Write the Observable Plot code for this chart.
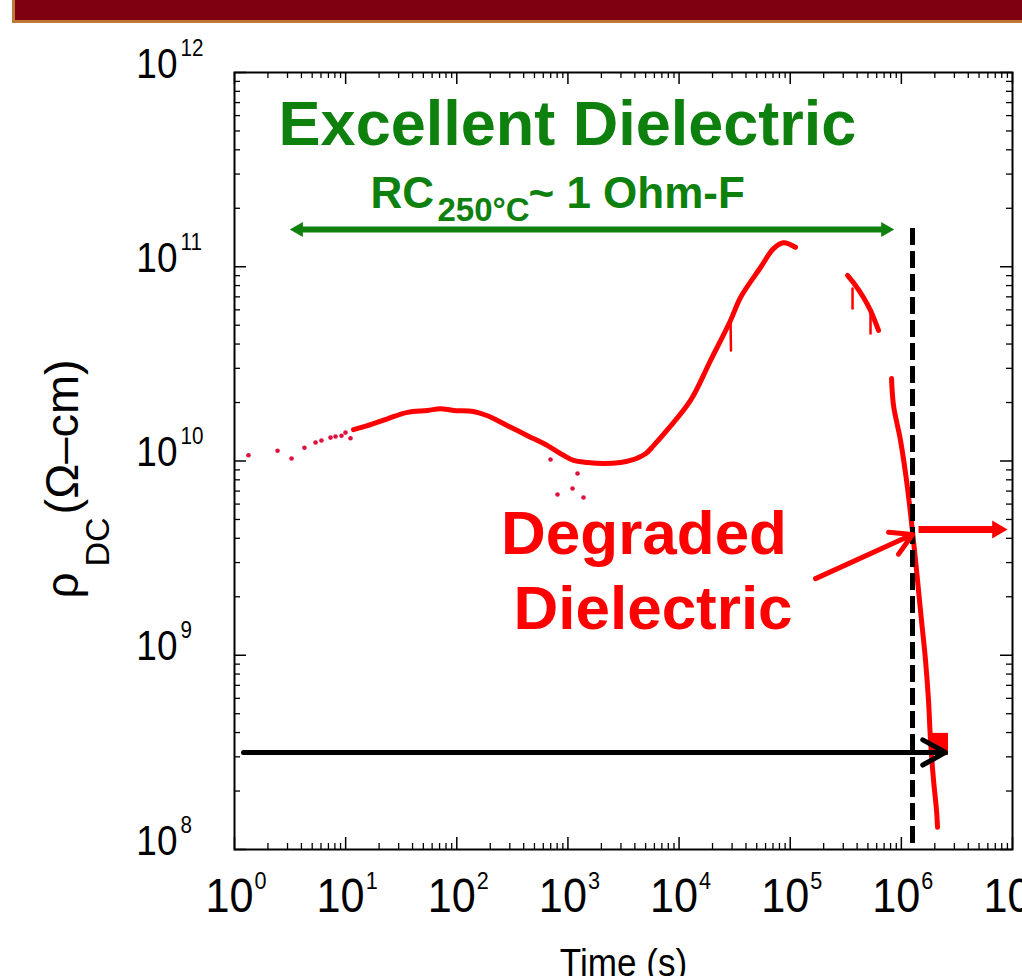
<!DOCTYPE html>
<html><head><meta charset="utf-8">
<script src="https://cdn.jsdelivr.net/npm/d3@7"></script>
<script src="https://cdn.jsdelivr.net/npm/@observablehq/plot@0.6"></script>
<style>
body{margin:0;background:#fff;overflow:hidden}
#wrap{position:relative;width:1022px;height:976px;overflow:hidden}
#chart{position:absolute;left:0;top:0}
#banner{position:absolute;left:12px;top:0;width:1020px;height:20px;background:#7f000e;border-bottom:3px solid #c0783a;border-left:3px solid #c0783a;z-index:2}
</style></head><body><div id="wrap"><div id="chart"></div><div id="banner"></div></div>
<script>
// ---- data ----
const curveA_t   = [11.77, 15.73, 23.8, 36.0, 54.5, 71.4, 93.4, 141, 189, 286, 433, 655, 912, 1123, 1500, 2090, 2972, 3657, 4990, 5890, 7870, 12680, 19180, 29040, 35710, 54050, 70740, 87000, 111600];
const curveA_rho = [1.45e10, 1.52e10, 1.65e10, 1.78e10, 1.82e10, 1.86e10, 1.82e10, 1.80e10, 1.71e10, 1.52e10, 1.35e10, 1.20e10, 1.07e10, 1.006e10, 9.82e9, 9.71e9, 9.82e9, 1.006e10, 1.09e10, 1.20e10, 1.45e10, 2.05e10, 3.29e10, 5.29e10, 6.95e10, 9.91e10, 1.24e11, 1.33e11, 1.26e11];
const curveB_t   = [327700, 386900, 456600, 527900, 623200];
const curveB_rho = [9.02e10, 8.01e10, 6.95e10, 5.95e10, 4.70e10];
const curveC_t   = [815800, 850300, 982700, 1113000, 1209000, 1313000, 1398000, 1518000, 1650000, 1755000, 1830000, 1948000, 2072000, 2116000];
const curveC_rho = [2.66e10, 1.93e10, 1.275e10, 7.94e9, 5.37e9, 3.46e9, 2.43e9, 1.51e9, 9.4e8, 5.85e8, 3.64e8, 2.27e8, 1.59e8, 1.30e8];
const spikes_id  = ["g1", "g1", "g2", "g2", "g3", "g3"];
const spikes_t   = [29040, 29300, 363700, 363700, 527900, 527900];
const spikes_rho = [5.29e10, 3.71e10, 7.73e10, 6.10e10, 5.81e10, 4.53e10];
const dots_t     = [1.336, 2.44, 3.26, 4.26, 5.36, 6.06, 7.31, 8.11, 9.18, 9.97, 11.06, 697, 1220, 806, 1100, 1381];
const dots_rho   = [1.07e10, 1.13e10, 1.03e10, 1.17e10, 1.245e10, 1.275e10, 1.32e10, 1.336e10, 1.35e10, 1.40e10, 1.31e10, 1.018e10, 8.62e9, 6.72e9, 7.22e9, 6.49e9];
const flare_t    = [1.907e6, 2.657e6];
const flare_rho  = [3.05e8, 3.96e8];

// tick labels
const xMajor = [1, 10, 100, 1e3, 1e4, 1e5, 1e6, 1e7];
const xExp   = ["0", "1", "2", "3", "4", "5", "6", "7"];
const yMajor = [1e8, 1e9, 1e10, 1e11, 1e12];
const yExp   = ["8", "9", "10", "11", "12"];
const minorSteps = [2, 3, 4, 5, 6, 7, 8, 9];

// annotations (data coordinates)
const dashedLine = {t: 1.26e6, top: 1.574e11, bottom: 1e8};
const greenArrow = {t1: 3.766, t2: 720300, rho: 1.555e11};
const blackArrow = {t1: 1.205, t2: 2.496e6, rho: 3.16e8};
const redDiag    = {t1: 168900, rho1: 2.48e9, t2: 1.26e6, rho2: 4.18e9};
const redHoriz   = {t1: 1.427e6, t2: 7.3e6, rho: 4.44e9};
const excellent  = {text: "Excellent Dielectric", t: 991, rho: 4.21e11};
const rcMain     = {text: "RC", t: 16.74, rho: 2.018e11};
const rcSub      = {text: "250°C", t: 67.07, rho: 1.73e11};
const rcRest     = {text: "~ 1 Ohm-F", t: 441.9, rho: 2.018e11};
const degraded   = [{text: "Degraded", t: 4837, rho: 3.34e9}, {text: "Dielectric", t: 5830, rho: 1.373e9}];

// ---- build tables ----
const curve = [
  ...curveA_t.map((t, i) => ({seg: "A", t, rho: curveA_rho[i]})),
  ...curveB_t.map((t, i) => ({seg: "B", t, rho: curveB_rho[i]})),
  ...curveC_t.map((t, i) => ({seg: "C", t, rho: curveC_rho[i]}))
];
const spikes = spikes_t.map((t, i) => ({seg: spikes_id[i], t, rho: spikes_rho[i]}));
const dots = dots_t.map((t, i) => ({t, rho: dots_rho[i]}));
const xMinor = xMajor.slice(0, -1).flatMap(d => minorSteps.map(m => d * m));
const yMinor = yMajor.slice(0, -1).flatMap(d => minorSteps.map(m => d * m));
const xLab = xMajor.map((v, i) => ({v, e: xExp[i]}));
const yLab = yMajor.map((v, i) => ({v, e: yExp[i]}));

const W = 1022, H = 976, mT = 72, mB = 127, mL = 234, mR = 10;
const FH = H - mT - mB, FW = W - mL - mR;
const RED = "#ff0000", GREEN = "#0e800e", DOT = "#e0103c";
const FONT = "'Liberation Sans', Arial, Helvetica, sans-serif";

const plot = Plot.plot({
  width: W, height: H,
  marginTop: mT, marginBottom: mB, marginLeft: mL, marginRight: mR,
  x: {type: "log", domain: [1, 1e7], axis: null},
  y: {type: "log", domain: [1e8, 1e12], axis: null},
  style: {background: "transparent", fontFamily: FONT, color: "black"},
  marks: [
    // ticks (inward) on all four sides
    Plot.ruleX(xMajor, {x: d => d, insetTop: FH - 12, stroke: "black", strokeWidth: 1.5}),
    Plot.ruleX(xMajor, {x: d => d, insetBottom: FH - 12, stroke: "black", strokeWidth: 1.5}),
    Plot.ruleX(xMinor, {x: d => d, insetTop: FH - 6, stroke: "black", strokeWidth: 1.3}),
    Plot.ruleX(xMinor, {x: d => d, insetBottom: FH - 6, stroke: "black", strokeWidth: 1.3}),
    Plot.ruleY(yMajor, {y: d => d, insetRight: FW - 12, stroke: "black", strokeWidth: 1.5}),
    Plot.ruleY(yMajor, {y: d => d, insetLeft: FW - 12, stroke: "black", strokeWidth: 1.5}),
    Plot.ruleY(yMinor, {y: d => d, insetRight: FW - 6, stroke: "black", strokeWidth: 1.3}),
    Plot.ruleY(yMinor, {y: d => d, insetLeft: FW - 6, stroke: "black", strokeWidth: 1.3}),
    Plot.frame({stroke: "black", strokeWidth: 2}),

    // data
    Plot.rect([0], {x1: () => flare_t[0], x2: () => flare_t[1], y1: () => flare_rho[0], y2: () => flare_rho[1], fill: RED}),
    Plot.line(curve, {x: "t", y: "rho", z: "seg", stroke: RED, strokeWidth: 5, curve: "catmull-rom", strokeLinejoin: "round", strokeLinecap: "round"}),
    Plot.line(spikes, {x: "t", y: "rho", z: "seg", stroke: RED, strokeWidth: 2.5}),
    Plot.dot(dots, {x: "t", y: "rho", r: 2.3, fill: DOT}),

    // annotations
    Plot.ruleX([dashedLine], {x: "t", y1: "top", y2: "bottom", stroke: "black", strokeWidth: 5, strokeDasharray: "17,6"}),
    Plot.arrow([blackArrow], {x1: "t1", x2: "t2", y1: "rho", y2: "rho", stroke: "black", strokeWidth: 5, headLength: 7.8, headAngle: 58}),
    Plot.link([greenArrow], {x1: "t1", x2: "t2", y1: "rho", y2: "rho", stroke: GREEN, strokeWidth: 6}),
    Plot.dot([greenArrow], {x: "t1", y: "rho", symbol: "triangle", r: 5.6, fill: GREEN, rotate: -90}),
    Plot.dot([greenArrow], {x: "t2", y: "rho", symbol: "triangle", r: 5.6, fill: GREEN, rotate: 90}),
    Plot.arrow([redDiag], {x1: "t1", x2: "t2", y1: "rho1", y2: "rho2", stroke: RED, strokeWidth: 5, headLength: 7.2, headAngle: 60}),
    Plot.link([redHoriz], {x1: "t1", x2: "t2", y1: "rho", y2: "rho", stroke: RED, strokeWidth: 7}),
    Plot.dot([redHoriz], {x: "t2", y: "rho", symbol: "triangle", r: 6.6, fill: RED, rotate: 90}),

    Plot.text([excellent], {x: "t", y: "rho", text: "text", fill: GREEN, fontSize: 63, fontWeight: "bold", textAnchor: "middle", lineAnchor: "bottom"}),
    Plot.text([rcMain], {x: "t", y: "rho", text: "text", fill: GREEN, fontSize: 44, fontWeight: "bold", textAnchor: "start", lineAnchor: "bottom"}),
    Plot.text([rcSub], {x: "t", y: "rho", text: "text", fill: GREEN, fontSize: 33, fontWeight: "bold", textAnchor: "start", lineAnchor: "bottom"}),
    Plot.text([rcRest], {x: "t", y: "rho", text: "text", fill: GREEN, fontSize: 44, fontWeight: "bold", textAnchor: "start", lineAnchor: "bottom"}),
    Plot.text(degraded, {x: "t", y: "rho", text: "text", fill: RED, fontSize: 62, fontWeight: "bold", textAnchor: "middle", lineAnchor: "bottom"}),

    // tick labels
    Plot.text(xLab, {x: "v", frameAnchor: "bottom", text: () => "10", textAnchor: "end", lineAnchor: "bottom", dx: 19, dy: 62, fontSize: 48, ariaDescription: "condx"}),
    Plot.text(xLab, {x: "v", frameAnchor: "bottom", text: "e", textAnchor: "start", lineAnchor: "bottom", dx: 20, dy: 39, fontSize: 24, ariaDescription: "condx"}),
    Plot.text(yLab, {y: "v", frameAnchor: "left", text: () => "10", textAnchor: "end", lineAnchor: "bottom", dx: -57, dy: 5, fontSize: 43, ariaDescription: "condy"}),
    Plot.text(yLab, {y: "v", frameAnchor: "left", text: "e", textAnchor: "start", lineAnchor: "bottom", dx: -54, dy: -17, fontSize: 24, ariaDescription: "condy"}),

    // axis titles
    Plot.text(["Time (s)"], {frameAnchor: "bottom", text: d => d, lineAnchor: "bottom", dy: 126, fontSize: 39, ariaDescription: "condx"}),
    Plot.text(["ρ"], {frameAnchor: "bottom-left", text: d => d, rotate: -90, textAnchor: "start", lineAnchor: "bottom", dx: -157, dy: -251, fontSize: 46}),
    Plot.text(["DC"], {frameAnchor: "bottom-left", text: d => d, rotate: -90, textAnchor: "start", lineAnchor: "bottom", dx: -126, dy: -283, fontSize: 34}),
    Plot.text(["(Ω–cm)"], {frameAnchor: "bottom-left", text: d => d, rotate: -90, textAnchor: "start", lineAnchor: "bottom", dx: -157, dy: -335, fontSize: 47})
  ]
});

// slightly condensed axis lettering, as in the reference figure
const condense = {condx: 0.9, condy: 0.86};
d3.select(plot).selectAll("g[aria-description]").each(function () {
  const k = condense[this.getAttribute("aria-description")];
  if (!k) return;
  d3.select(this).selectAll("text").attr("transform", function () {
    return (this.getAttribute("transform") || "") + ` scale(${k},1)`;
  });
});
document.getElementById("chart").appendChild(plot);
</script></body></html>
